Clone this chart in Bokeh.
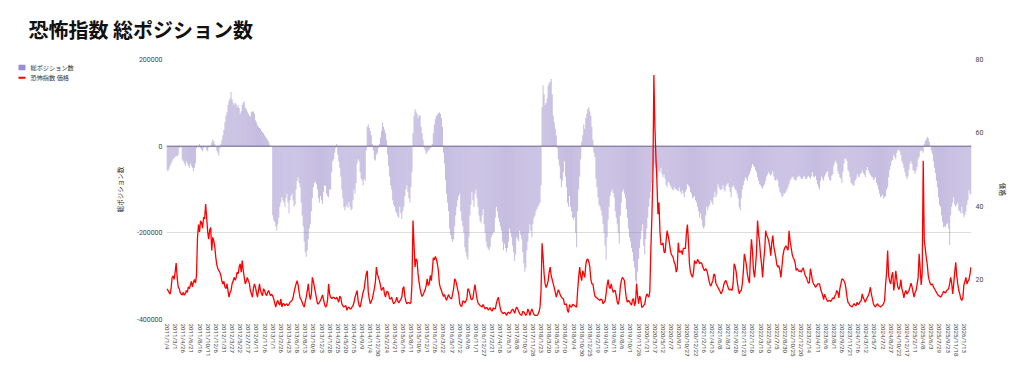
import datetime as dt
from bokeh.plotting import figure
from bokeh.layouts import column, row
from bokeh.models import (Range1d, LinearAxis, FixedTicker, NumeralTickFormatter,
                          Label, ColumnDataSource)
from bokeh.core.properties import value
from bokeh.embed import file_html
from bokeh.resources import INLINE

title_text = "恐怖指数 総ポジション数"
bar_series_name = "総ポジション数"
line_series_name = "恐怖指数 価格"
left_axis_title = "総ポジション数"
right_axis_title = "価格"
start_date = dt.date(2011, 1, 4)   # weekly data (Tuesdays)

left_ticks = [-400000, -200000, 0, 200000]
right_ticks = [20, 40, 60, 80]

x_tick_labels = [
    "2011/1/4", "2011/3/1", "2011/4/26", "2011/6/21", "2011/8/16", "2011/10/11", "2011/12/6",
    "2012/1/31", "2012/3/27", "2012/5/22", "2012/7/17", "2012/9/11", "2012/11/6",
    "2013/1/1", "2013/2/26", "2013/4/23", "2013/6/18", "2013/8/13", "2013/10/8", "2013/12/3",
    "2014/1/28", "2014/3/25", "2014/5/20", "2014/7/15", "2014/9/9", "2014/11/4", "2014/12/30",
    "2015/2/24", "2015/4/21", "2015/6/16", "2015/8/11", "2015/10/6", "2015/12/1",
    "2016/1/26", "2016/3/22", "2016/5/17", "2016/7/12", "2016/9/6", "2016/11/1", "2016/12/27",
    "2017/2/21", "2017/4/18", "2017/6/13", "2017/8/8", "2017/10/3", "2017/11/28",
    "2018/1/23", "2018/3/20", "2018/5/15", "2018/7/10", "2018/9/4", "2018/10/30", "2018/12/25",
    "2019/2/19", "2019/4/16", "2019/6/11", "2019/8/6", "2019/10/1", "2019/11/26",
    "2020/1/21", "2020/3/17", "2020/5/12", "2020/7/7", "2020/9/1", "2020/10/27", "2020/12/22",
    "2021/2/16", "2021/4/13", "2021/6/8", "2021/8/3", "2021/9/28", "2021/11/23",
    "2022/1/18", "2022/3/15", "2022/5/10", "2022/7/5", "2022/8/30", "2022/10/25", "2022/12/20",
    "2023/2/14", "2023/4/11", "2023/6/6", "2023/8/1", "2023/9/26", "2023/11/21",
    "2024/1/16", "2024/3/12", "2024/5/7", "2024/7/2", "2024/8/27", "2024/10/22", "2024/12/17",
    "2025/2/11", "2025/4/8", "2025/6/3", "2025/7/29", "2025/9/23", "2025/11/18",
    "2026/1/13",
]

# net positions, in thousands of contracts (weekly)
positions_2011_2013 = [
    -55, -58, -52, -45, -40, -35, -30, -28, -25, -22, -24, -20,
    -5, 0, -3,
    -30, -35, -40, -45, -35, -40, -45, -50, -40, -45, -50, -58, -50, -40,
    -5, 0, -3,
    5, -5, -8, -12, -5, 0, -3,
    -8, -12, -3, 0,
    2, 8, 15, 12, 5, 0,
    -10, -15, -22,
    -5, 5,
    15, 25, 38,
    55, 70, 78, 95, 105, 110, 125, 108, 100, 95, 100, 98, 90, 95, 88, 75, 80, 95, 100, 103,
    90, 85, 80, 75, 70, 68, 78, 80, 80, 75, 60, 55, 48, 45, 42, 40, 35, 32, 30, 25,
    22, 18, 15, 10, 3, 0, -2,
    -160, -171, -175, -185, -195, -180, -165, -140, -130, -118, -125, -130, -140, -120, -110,
    -130, -155, -125, -115, -110, -125, -140, -135, -100, -80, -72, -85, -95, -130, -160,
    -185, -220, -245, -255, -240, -215, -190, -180, -150, -120, -95, -85, -82, -88, -100,
    -120, -130, -115, -125, -133, -105, -90, -92, -110, -115, -118, -100,
]
positions_2014_2016 = [
    -100, -60, -35, -30, -15, -5, 5, -20, -35, -50,
    -70, -100, -120, -140, -148, -140, -135, -142, -128, -140,
    -148, -145, -125, -100, -110, -85, -40, -30, -35, -60,
    -75, -80, -90, -75, -80, -10, 45, 50, 42, 35,
    25, 5, -10, -30, -33, -20, -15, -5, 5, 20,
    35, 55, 45, 38, 30, 15, -20, -45, -70, -90,
    -100, -125, -135, -140, -150, -155, -162, -165, -140, -155,
    -168, -150, -140, -115, -100, -90, -105, -120, -130, -95,
    -60, 30, 70, 85, 80, 75, 65, 72, 70, 45,
    30, 15, -5, -10, -18, -14, -10, -8, -5, -3,
    5, 30, 50, 62, 70, 73, 76, 78, 75, 65,
    45, -15, -40, -78, -110, -130, -150, -190, -205, -214,
    -222, -215, -185, -160, -140, -125, -115, -110, -150, -172,
    -185, -200, -233, -245, -255, -262, -210, -160, -135, -105,
    -125, -140, -110, -100, -120, -140, -160, -172, -178, -160,
    -145, -180, -200, -220, -232, -237, -240, -232, -210, -205, -200, -198,
]
positions_2017_2020 = [
    -165, -140, -150, -165, -175, -185, -195, -220, -240, -225,
    -235, -245, -235, -220, -190, -200, -210, -230, -245, -265,
    -250, -210, -215, -220, -195, -205, -215, -245, -270, -290,
    -280, -240, -220, -200, -180, -195, -210, -180, -165, -160,
    -150, -145, -140, -135, -130, -90, 90, 140, 120, 95,
    100, 110, 140, 145, 150, 155, 120, 70, 55, 40,
    25, -5, -30, -45, -75, -95, -80, -60, -35, -70,
    -95, -130, -140, -115, -140, -150, -165, -170, -164, -200,
    -233, -150, -100, -70, -30, 10, 25, 50, 40, 65,
    75, 86, 90, 80, 70, 45, 15, -15, -25, -75,
    -95, -118, -135, -140, -148, -160, -180, -200, -230, -262,
    -210, -170, -140, -115, -105, -100, -108, -118, -150, -165,
    -180, -200, -225, -160, -130, -105, -100, -110, -120, -145,
    -165, -190, -210, -220, -235, -245, -265, -280, -310, -318,
    -290, -260, -235, -215, -195, -180, -230, -250, -215, -190,
    -165, -140, -120, -105, -85, -60, -45, -40, -50, -70, -60, -55,
]
positions_2020_2023 = [
    -60, -50, -65, -72, -65, -75, -90, -95, -82, -85,
    -90, -95, -100, -102, -95, -98, -100, -102, -104, -95,
    -105, -110, -102, -110, -118, -105, -100, -88, -90, -95,
    -105, -110, -120, -118, -115, -125, -130, -140, -150, -165,
    -155, -170, -185, -190, -185, -160, -140, -148, -140, -135,
    -125, -130, -135, -118, -105, -118, -112, -88, -95, -100,
    -102, -98, -90, -100, -105, -92, -88, -85, -95, -105,
    -118, -95, -90, -95, -100, -102, -110, -120, -141, -148,
    -120, -100, -90, -80, -72, -75, -80, -70, -64, -58,
    -50, -41, -45, -48, -55, -60, -72, -80, -88, -90,
    -95, -98, -92, -88, -80, -70, -65, -60, -65, -68,
    -64, -58, -70, -78, -80, -75, -80, -95, -105, -110,
    -118, -115, -108, -110, -105, -100, -95, -88, -80, -75,
    -72, -70, -76, -80, -78, -72, -70, -68, -72, -75,
    -76, -72, -68, -75, -76, -72, -68, -72, -75, -70,
    -60, -70, -72, -68, -78, -88, -95, -100, -80, -70, -75, -80,
]
positions_2023_2026 = [
    -70, -65, -60, -58, -72, -78, -80, -68, -65, -45,
    -38, -33, -40, -58, -64, -72, -75, -85, -60, -40,
    -28, -30, -35, -55, -60, -72, -85, -88, -90, -91,
    -80, -76, -65, -70, -72, -65, -62, -56, -62, -66,
    -72, -55, -48, -56, -62, -66, -70, -72, -78, -75,
    -72, -85, -90, -100, -110, -118, -115, -112, -121, -118,
    -115, -100, -95, -72, -55, -45, -35, -32, -20, -25,
    -30, -15, -10, -8, -12, -20, -35, -40, -50, -60,
    -70, -76, -70, -55, -40, -35, -42, -55, -58, -64,
    -56, -48, -30, -25, -12, -10, -12, -15, 5, 12,
    16, 22, 18, 10, 0, -10, -18, -35, -50, -62,
    -80, -95, -118, -135, -140, -160, -175, -187, -185, -187,
    -180, -178, -190, -228, -160, -140, -130, -118, -135, -140,
    -135, -130, -148, -150, -155, -140, -155, -164, -158, -150,
    -135, -125, -102, -110, -112,
]

# fear index (VIX) weekly close
vix_2011_2013 = [
    17.5, 17.0, 16.5, 16.0, 17.5, 20.5, 21.0, 20.0, 22.0, 24.5,
    20.5, 18.0, 17.5, 16.5, 16.0, 15.8, 16.5, 15.7, 16.2, 17.0,
    16.5, 18.0, 17.5, 18.5, 19.5, 18.0, 19.2, 20.0, 19.0, 21.0,
    31.5, 35.0, 33.0, 36.0, 35.5, 34.0, 37.0, 36.5, 40.6, 37.0,
    33.0, 31.0, 33.5, 34.2, 27.9, 31.5, 30.5, 29.0, 26.0, 24.0,
    23.0, 22.4, 22.0, 21.0, 19.5, 18.8, 19.5, 18.0, 17.5, 18.8,
    17.0, 15.2, 16.5, 17.0, 18.8, 19.5, 20.6, 19.8, 20.5, 22.0,
    21.5, 23.4, 24.3, 22.0, 25.2, 22.5, 20.6, 18.8, 19.5, 20.6,
    19.7, 19.0, 17.0, 16.1, 15.2, 17.5, 18.8, 17.9, 16.5, 15.2,
    17.0, 18.8, 17.0, 16.1, 15.6, 17.5, 17.0, 16.1, 15.6, 16.5,
    17.0, 16.1, 15.6, 16.0, 15.5, 14.7, 13.5, 12.5, 13.8, 14.3,
    13.4, 13.0, 14.7, 12.5, 13.4, 13.4, 12.9, 13.2, 13.4, 12.9,
    13.2, 13.8, 14.0, 14.3, 15.0, 16.5, 17.8, 18.8, 19.7, 18.5,
    16.5, 15.0, 14.5, 13.8, 13.0, 12.5, 14.0, 15.2, 17.0, 18.8,
    16.0, 14.5, 16.0, 20.6, 19.5, 18.0, 16.5, 15.0, 13.4, 13.4,
    13.8, 14.3, 15.0, 15.8, 14.5, 13.2, 12.5, 12.8, 14.5, 18.8, 16.0,
]
vix_2014_2016 = [
    15.2, 14.8, 15.0, 15.2, 14.9, 14.7, 15.2, 14.5, 13.8, 15.5,
    15.0, 13.4, 12.8, 12.5, 12.7, 12.9, 11.6, 12.3, 12.5, 12.0,
    12.0, 12.5, 12.9, 13.8, 15.2, 16.1, 17.0, 14.3, 12.9, 12.5,
    13.8, 15.2, 16.6, 17.5, 19.7, 21.5, 22.4, 16.6, 14.7, 13.4,
    14.1, 14.7, 16.1, 17.5, 19.3, 23.4, 21.4, 20.6, 19.7, 18.4,
    17.0, 17.5, 17.9, 16.1, 15.2, 16.6, 16.8, 16.1, 14.7, 14.7,
    15.2, 14.1, 13.4, 13.7, 14.1, 15.2, 14.1, 13.6, 14.1, 14.6,
    15.2, 17.5, 18.1, 15.4, 14.1, 13.4, 13.7, 13.7, 13.4, 13.8,
    18.8, 36.1, 29.7, 23.4, 25.6, 25.2, 21.5, 19.3, 17.5, 16.1,
    15.4, 15.9, 16.6, 17.2, 18.4, 20.2, 18.4, 18.8, 21.1, 19.7,
    22.4, 25.9, 25.4, 26.3, 25.6, 24.3, 22.4, 18.8, 17.7, 17.0,
    16.1, 15.4, 15.9, 15.0, 14.3, 15.2, 15.9, 15.2, 14.9, 14.7,
    16.1, 17.5, 20.2, 19.7, 18.6, 17.2, 16.1, 13.4, 12.8, 12.7,
    14.1, 14.1, 13.6, 14.1, 14.7, 17.5, 17.2, 16.1, 14.7, 14.5,
    15.0, 17.0, 18.6, 16.6, 14.7, 13.6, 13.2, 12.9, 12.7, 12.5,
    13.2, 12.5, 12.0, 12.3, 12.3, 11.7, 12.0, 12.3, 11.6, 11.4, 12.3, 12.0,
]
vix_2017_2020 = [
    12.0, 13.4, 14.5, 15.2, 13.5, 12.0, 11.2, 10.9, 10.7, 11.0,
    10.8, 10.2, 10.8, 11.1, 10.8, 10.9, 11.6, 11.9, 11.5, 10.8,
    11.8, 12.5, 12.0, 11.3, 10.7, 10.4, 10.2, 11.3, 11.2, 10.7,
    10.2, 10.6, 12.0, 11.3, 10.2, 11.2, 12.0, 11.2, 10.5, 10.2,
    10.2, 10.2, 10.5, 11.2, 12.5, 17.0, 29.9, 26.1, 21.5, 18.8,
    17.8, 18.5, 19.7, 22.0, 23.4, 21.0, 20.0, 18.8, 17.8, 16.5,
    15.2, 16.3, 17.2, 16.5, 15.8, 15.2, 14.9, 14.7, 13.2, 13.2,
    13.4, 11.5, 11.0, 13.2, 12.6, 12.5, 13.2, 13.1, 12.9, 12.6,
    12.5, 17.0, 20.6, 23.4, 21.0, 19.7, 22.4, 21.5, 20.6, 24.0,
    25.4, 25.6, 24.8, 23.4, 20.0, 18.8, 18.8, 17.0, 15.5, 15.2,
    15.0, 14.7, 14.5, 14.3, 14.7, 14.5, 13.4, 13.8, 14.2, 16.1,
    18.5, 20.0, 18.0, 17.5, 18.8, 17.5, 16.5, 17.0, 17.0, 15.5,
    13.8, 13.2, 14.7, 18.0, 19.7, 20.6, 20.2, 19.7, 17.0, 14.7,
    13.8, 14.3, 14.0, 13.4, 13.0, 14.5, 14.8, 12.8, 14.0, 18.8,
    15.5, 13.4, 15.5, 14.8, 12.5, 12.5, 13.0, 13.2, 15.0, 16.1,
    15.6, 15.2, 16.6, 27.9, 36.8, 47.3, 75.8, 61.7, 53.5, 46.7, 37.8, 41.0,
]
vix_2020_2023 = [
    33.0, 29.5, 29.5, 30.0, 27.5, 27.3, 30.5, 33.3, 32.0, 30.5,
    28.5, 27.0, 26.5, 26.0, 24.7, 24.0, 22.0, 23.0, 30.0, 27.5,
    27.5, 27.9, 26.8, 28.5, 28.5, 28.5, 32.5, 35.0, 30.5, 24.3,
    22.0, 21.2, 20.6, 22.0, 25.2, 24.5, 24.5, 25.5, 25.0, 24.3,
    24.6, 24.5, 23.6, 22.8, 22.4, 23.0, 22.5, 21.5, 20.0, 18.8,
    18.2, 19.0, 19.7, 21.5, 21.2, 19.0, 18.4, 17.9, 17.3, 16.8,
    16.1, 16.6, 17.5, 18.8, 19.5, 19.7, 18.8, 17.9, 17.2, 17.2,
    17.4, 17.0, 19.0, 24.3, 23.5, 22.0, 19.5, 17.5, 16.1, 16.8,
    17.0, 18.8, 22.0, 27.0, 25.5, 24.0, 21.5, 20.0, 19.0, 26.0,
    31.0, 27.9, 22.5, 20.6, 23.5, 27.5, 36.1, 32.5, 30.0, 26.5,
    24.0, 20.6, 25.0, 27.9, 33.3, 32.0, 31.5, 30.5, 29.0, 26.5,
    30.0, 32.0, 29.0, 27.5, 26.0, 24.0, 23.4, 23.8, 22.5, 20.6,
    23.5, 26.5, 28.0, 28.8, 29.2, 28.5, 28.0, 33.3, 30.5, 28.8,
    27.0, 26.0, 25.5, 24.5, 22.5, 23.0, 22.5, 22.2, 22.4, 22.0,
    22.8, 23.2, 22.0, 21.0, 20.6, 19.7, 19.0, 19.2, 23.0, 21.5,
    19.7, 18.8, 18.5, 17.9, 18.2, 18.8, 18.8, 18.8, 17.5, 16.6, 15.8, 14.5,
]
vix_2023_2026 = [
    16.0, 15.2, 14.5, 14.0, 14.2, 14.3, 14.0, 14.5, 15.0, 14.7,
    15.5, 16.0, 17.0, 16.5, 15.0, 17.5, 18.8, 20.2, 20.0, 19.7,
    19.0, 17.5, 15.2, 13.8, 13.4, 12.9, 12.7, 12.5, 13.0, 13.4,
    13.0, 12.9, 13.8, 13.2, 13.4, 14.0, 14.3, 16.1, 15.0, 14.5,
    13.8, 14.5, 15.2, 15.6, 16.5, 17.9, 16.0, 14.7, 13.4, 12.9,
    12.5, 13.0, 13.4, 12.9, 12.7, 12.5, 12.8, 13.0, 13.4, 14.3,
    18.8, 22.0, 27.9, 21.0, 19.5, 18.8, 21.0, 22.0, 17.0, 19.0,
    22.4, 20.0, 18.0, 17.3, 18.0, 20.0, 17.5, 16.5, 15.0, 16.5,
    17.0, 16.0, 16.5, 17.0, 18.0, 19.0, 18.0, 16.5, 15.2, 16.5,
    17.0, 18.8, 20.5, 27.0, 23.0, 18.5, 21.8, 52.4, 30.6, 28.5,
    26.0, 24.0, 21.0, 19.7, 18.8, 18.5, 18.8, 18.0, 17.5, 17.0,
    16.5, 16.0, 15.6, 15.5, 15.2, 15.5, 16.1, 16.8, 16.5, 16.3,
    17.0, 17.2, 17.5, 18.8, 20.6, 19.0, 16.1, 18.8, 22.0, 24.7,
    21.0, 18.8, 17.0, 16.0, 14.7, 14.3, 15.0, 18.5, 19.5, 20.6,
    18.8, 19.5, 20.0, 21.5, 23.4,
]

positions_k = (positions_2011_2013 + positions_2014_2016 + positions_2017_2020
               + positions_2020_2023 + positions_2023_2026)
vix_close = vix_2011_2013 + vix_2014_2016 + vix_2017_2020 + vix_2020_2023 + vix_2023_2026

n = min(len(positions_k), len(vix_close))
idx = list(range(n))
dates = [start_date + dt.timedelta(weeks=i) for i in idx]
date_str = [f"{d.year}/{d.month}/{d.day}" for d in dates]
src = ColumnDataSource(dict(x=idx, pos=[v * 1000 for v in positions_k[:n]],
                            vix=vix_close[:n], date=date_str))

TICK_FONT = "Roboto"
CJK_FONT = "Noto Sans CJK JP"
BAR_COLOR = "#8e7cc3"
LEGEND_BAR_COLOR = "#9b8dcf"
LINE_COLOR = "#ff0000"

W, H = 1024, 377
TOP_H = 50          # title strip height
LEG_W = 100         # legend column width
LEG_H = H - TOP_H

# ---------- title strip ----------
tf = figure(width=W, height=TOP_H, output_backend="svg", toolbar_location=None,
            x_axis_type=None, y_axis_type=None, min_border=0,
            x_range=Range1d(0, 1), y_range=Range1d(0, 1))
tf.outline_line_color = None
tf.add_layout(Label(x=28, y=TOP_H - 28.5, x_units="screen", y_units="screen", text=title_text,
                    text_font=CJK_FONT, text_font_size="20px", text_font_style="bold",
                    text_baseline="middle", text_color="#111111"))

# ---------- legend column (pixel coordinates, y measured from top) ----------
lf = figure(width=LEG_W, height=LEG_H, output_backend="svg", toolbar_location=None,
            x_axis_type=None, y_axis_type=None, min_border=0,
            x_range=Range1d(0, LEG_W), y_range=Range1d(LEG_H, 0))
lf.outline_line_color = None
lf.grid.visible = False
leg_y1, leg_y2 = 60 - TOP_H, 73 - TOP_H
lf.rect(x=[21.5], y=[leg_y1], width=7, height=7, fill_color=LEGEND_BAR_COLOR, line_color=None)
lf.rect(x=[21.5], y=[leg_y2], width=7, height=2.5, fill_color=LINE_COLOR, line_color=None)
lf.text(x=[30, 30], y=[leg_y1, leg_y2], text=[bar_series_name, line_series_name],
        text_font=value(CJK_FONT), text_font_size="6.2px", text_color="#333333",
        text_baseline="middle", text_align="left")

# ---------- main chart ----------
p = figure(width=W - LEG_W, height=LEG_H, output_backend="svg", toolbar_location=None,
           title=None, x_range=Range1d(-0.5, n - 0.5), y_range=Range1d(-400000, 200000),
           min_border_left=166 - LEG_W, min_border_right=W - 971,
           min_border_top=59 - TOP_H, min_border_bottom=H - 319)
p.extra_y_ranges = {"vix": Range1d(9.1, 80)}
p.outline_line_color = None

p.vbar(x="x", top="pos", bottom=0, width=1.0, source=src,
       fill_color=BAR_COLOR, fill_alpha=0.5, line_color=None)
p.line(x=[-0.5, n - 0.5], y=[0, 0], line_color="#6f6794", line_width=1)
p.line(x="x", y="vix", source=src, y_range_name="vix", line_color=LINE_COLOR, line_width=1.3)


def style_axis(ax, size):
    ax.axis_line_color = None
    ax.major_tick_line_color = None
    ax.minor_tick_line_color = None
    ax.major_tick_out = 0
    ax.major_tick_in = 0
    ax.minor_tick_out = 0
    ax.minor_tick_in = 0
    ax.major_label_text_font = TICK_FONT
    ax.major_label_text_font_size = size
    ax.major_label_text_color = "#444444"
    ax.major_label_standoff = 4
    ax.axis_label_text_font = CJK_FONT
    ax.axis_label_text_font_size = "6.5px"
    ax.axis_label_text_font_style = "normal"
    ax.axis_label_text_color = "#222222"


# x axis
label_set = set(x_tick_labels)
tick_pos = [i for i, s in enumerate(date_str) if s in label_set]
xa = p.xaxis[0]
xa.ticker = FixedTicker(ticks=tick_pos, minor_ticks=[])
xa.major_label_overrides = {i: date_str[i] for i in tick_pos}
xa.major_label_orientation = "vertical"
style_axis(xa, "6.2px")
p.xgrid.visible = False

# left axis
ya = p.yaxis[0]
ya.ticker = FixedTicker(ticks=left_ticks, minor_ticks=[])
ya.formatter = NumeralTickFormatter(format="0")
style_axis(ya, "7px")
ya.axis_label = left_axis_title
ya.axis_label_standoff = 9
p.ygrid.ticker = FixedTicker(ticks=left_ticks, minor_ticks=[])
p.ygrid.grid_line_color = "#dddddd"

# right axis
ra = LinearAxis(y_range_name="vix", ticker=FixedTicker(ticks=right_ticks, minor_ticks=[]),
                axis_label=right_axis_title)
style_axis(ra, "7px")
ra.axis_label_standoff = 12
p.add_layout(ra, "right")

page = column(tf, row(lf, p, spacing=0), spacing=0)
open("out.html", "w").write(file_html(page, INLINE))
